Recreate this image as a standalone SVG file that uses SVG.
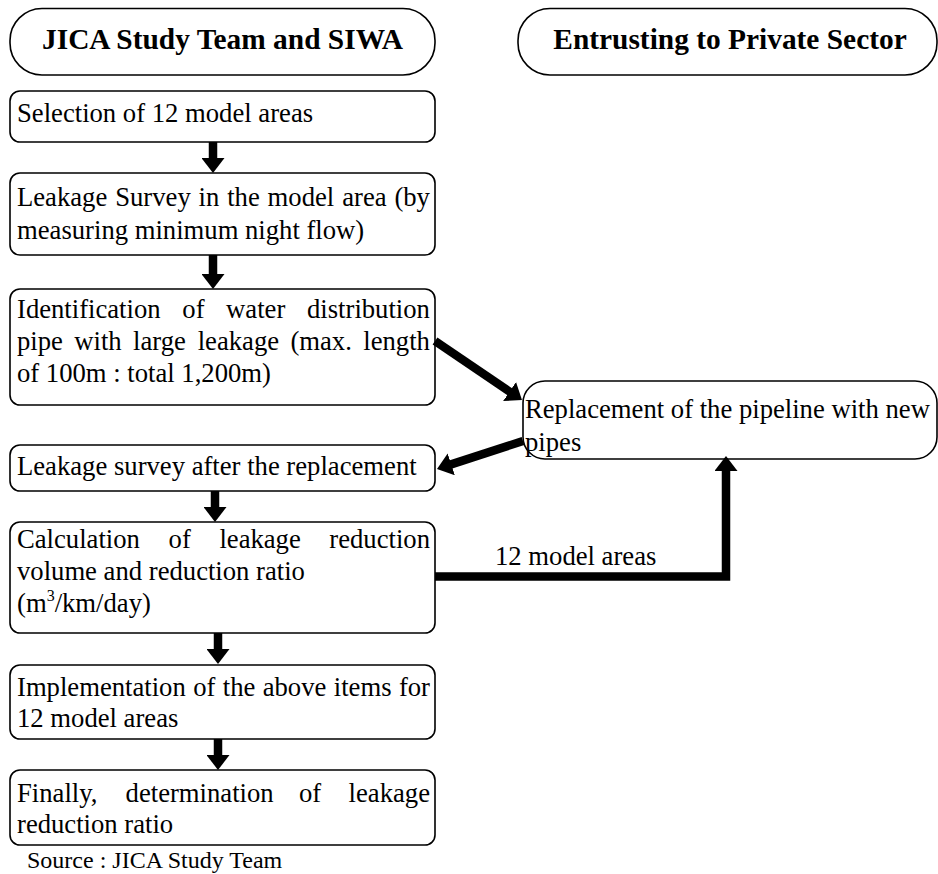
<svg xmlns="http://www.w3.org/2000/svg" width="938" height="874" viewBox="0 0 938 874">
<defs>
<style>
.box{fill:#fff;stroke:#000;stroke-width:1.6}
.t{font-family:"Liberation Serif","Times New Roman",serif;font-size:26.67px;fill:#000}
.h{font-family:"Liberation Serif","Times New Roman",serif;font-size:29.4px;font-weight:bold;fill:#000;text-anchor:middle}
.src{font-family:"Liberation Serif","Times New Roman",serif;font-size:24px;fill:#000}
.c{fill:none;stroke:#000;stroke-width:8.5;stroke-linejoin:miter}
</style>
<marker id="ah" markerUnits="userSpaceOnUse" markerWidth="16" markerHeight="23" refX="5" refY="11.5" orient="auto">
<path d="M0,0 L15,11.5 L0,23 Z" fill="#000"/>
</marker>
</defs>
<rect width="938" height="874" fill="#fff"/>

<g id="header-jica">
<rect class="box" x="10" y="8.5" width="425" height="66.5" rx="32" ry="32"/>
<text class="h" x="222.5" y="48.5">JICA Study Team and SIWA</text>
</g>
<g id="header-private">
<rect class="box" x="518" y="8.5" width="419" height="66.5" rx="32" ry="32"/>
<text class="h" x="730" y="48.5">Entrusting to Private Sector</text>
</g>

<g id="n1">
<rect class="box" x="10" y="91" width="425" height="51" rx="10"/>
<text class="t" x="17" y="122">Selection of 12 model areas</text>
</g>
<g id="n2">
<rect class="box" x="10" y="173" width="425" height="82" rx="10"/>
<text class="t" y="206"><tspan x="17">Leakage</tspan><tspan x="115.2">Survey</tspan><tspan x="198.6">in</tspan><tspan x="227.2">the</tspan><tspan x="267.6">model</tspan><tspan x="342.2">area</tspan><tspan x="394.4">(by</tspan></text>
<text class="t" x="17" y="239">measuring minimum night flow)</text>
</g>
<g id="n3">
<rect class="box" x="10" y="289" width="425" height="116" rx="10"/>
<text class="t" y="318"><tspan x="17">Identification</tspan><tspan x="182.3">of</tspan><tspan x="226.1">water</tspan><tspan x="307">distribution</tspan></text>
<text class="t" y="350"><tspan x="17">pipe</tspan><tspan x="74.3">with</tspan><tspan x="133">large</tspan><tspan x="197.7">leakage</tspan><tspan x="290.4">(max.</tspan><tspan x="363.3">length</tspan></text>
<text class="t" x="17" y="382">of 100m : total 1,200m)</text>
</g>
<g id="n-replace">
<rect class="box" x="523" y="381" width="414" height="78" rx="22"/>
<text class="t" x="525" y="418">Replacement of the pipeline with new</text>
<text class="t" x="525" y="451">pipes</text>
</g>
<g id="n4">
<rect class="box" x="10" y="445" width="425" height="46" rx="10"/>
<text class="t" x="17" y="475">Leakage survey after the replacement</text>
</g>
<g id="n5">
<rect class="box" x="10" y="522" width="425" height="111" rx="10"/>
<text class="t" y="548"><tspan x="17">Calculation</tspan><tspan x="168.6">of</tspan><tspan x="219.4">leakage</tspan><tspan x="329.3">reduction</tspan></text>
<text class="t" x="17" y="580">volume and reduction ratio</text>
<text class="t" x="17" y="612">(m<tspan font-size="16" dy="-11">3</tspan><tspan dy="11">/km/day)</tspan></text>
</g>
<g id="n6">
<rect class="box" x="10" y="665" width="425" height="74" rx="10"/>
<text class="t" y="696"><tspan x="17">Implementation</tspan><tspan x="193.2">of</tspan><tspan x="222.8">the</tspan><tspan x="262.7">above</tspan><tspan x="333.8">items</tspan><tspan x="398.9">for</tspan></text>
<text class="t" x="17" y="727">12 model areas</text>
</g>
<g id="n7">
<rect class="box" x="10" y="770" width="425" height="75" rx="10"/>
<text class="t" y="802"><tspan x="17">Finally,</tspan><tspan x="125.6">determination</tspan><tspan x="299">of</tspan><tspan x="348.6">leakage</tspan></text>
<text class="t" x="17" y="833">reduction ratio</text>
</g>

<g id="connectors">
<line class="c" x1="213" y1="142" x2="213" y2="163" marker-end="url(#ah)"/>
<line class="c" x1="213" y1="255" x2="213" y2="279" marker-end="url(#ah)"/>
<line class="c" x1="435" y1="341" x2="513.7" y2="394.4" marker-end="url(#ah)"/>
<line class="c" x1="523" y1="441" x2="446.5" y2="465.9" marker-end="url(#ah)"/>
<line class="c" x1="215" y1="491" x2="215" y2="512" marker-end="url(#ah)"/>
<line class="c" x1="218" y1="633" x2="218" y2="654" marker-end="url(#ah)"/>
<line class="c" x1="218" y1="739" x2="218" y2="760" marker-end="url(#ah)"/>
<path class="c" d="M435,576.5 H726 V466" marker-end="url(#ah)"/>
<text class="t" x="495" y="565">12 model areas</text>
</g>

<text class="src" x="27" y="868">Source : JICA Study Team</text>
</svg>
